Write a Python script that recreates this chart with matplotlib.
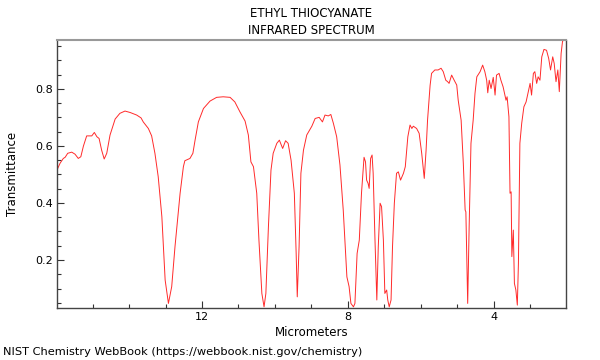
import numpy as np
import matplotlib
matplotlib.use('Agg')
import matplotlib.pyplot as plt
from matplotlib.ticker import MultipleLocator

# Spectrum (wavelength in micrometers, transmittance)
wavelength = [15.96, 15.89, 15.80, 15.75, 15.68, 15.57, 15.48, 15.39, 15.32, 15.25,
              15.16, 15.02, 14.95, 14.88, 14.82, 14.75, 14.68, 14.61, 14.52, 14.38,
              14.25, 14.11, 13.97, 13.79, 13.67, 13.61, 13.47, 13.38, 13.29, 13.20,
              13.10, 13.01, 12.92, 12.83, 12.74, 12.60, 12.51, 12.47, 12.33, 12.25,
              12.19, 12.10, 11.96, 11.78, 11.60, 11.42, 11.23, 11.10, 10.96, 10.82,
              10.73, 10.66, 10.59, 10.50, 10.44, 10.36, 10.30, 10.25, 10.18, 10.11,
              10.05, 9.95, 9.88, 9.79, 9.71, 9.64, 9.56, 9.47, 9.42, 9.39,
              9.34, 9.29, 9.22, 9.13, 8.99, 8.90, 8.79, 8.70, 8.63, 8.54,
              8.47, 8.40, 8.31, 8.22, 8.13, 8.03, 7.97, 7.92, 7.85, 7.81,
              7.75, 7.69, 7.63, 7.56, 7.52, 7.49, 7.45, 7.42, 7.38, 7.34,
              7.31, 7.26, 7.21, 7.17, 7.12, 7.08, 7.03, 6.99, 6.94, 6.91,
              6.87, 6.82, 6.78, 6.73, 6.67, 6.62, 6.56, 6.48, 6.43, 6.36,
              6.30, 6.25, 6.21, 6.12, 6.05, 5.98, 5.91, 5.86, 5.82, 5.75,
              5.71, 5.62, 5.53, 5.45, 5.39, 5.32, 5.27, 5.23, 5.16, 5.09,
              5.02, 4.98, 4.90, 4.84, 4.79, 4.77, 4.72, 4.68, 4.63, 4.57,
              4.52, 4.47, 4.38, 4.31, 4.25, 4.20, 4.17, 4.13, 4.08, 4.02,
              3.97, 3.93, 3.86, 3.81, 3.75, 3.70, 3.67, 3.64, 3.59, 3.56,
              3.53, 3.51, 3.47, 3.44, 3.40, 3.36, 3.33, 3.29, 3.24, 3.18,
              3.12, 3.06, 3.01, 2.97, 2.92, 2.88, 2.83, 2.79, 2.74, 2.69,
              2.63, 2.56, 2.50, 2.45, 2.39, 2.35, 2.30, 2.25, 2.21, 2.16,
              2.12, 2.05]
transmittance = [0.519, 0.539, 0.556, 0.560, 0.574, 0.578, 0.571, 0.556, 0.562, 0.599,
                 0.635, 0.635, 0.647, 0.632, 0.626, 0.585, 0.554, 0.574, 0.638, 0.694,
                 0.714, 0.722, 0.717, 0.708, 0.698, 0.684, 0.661, 0.635, 0.574, 0.492,
                 0.352, 0.130, 0.048, 0.107, 0.247, 0.434, 0.527, 0.548, 0.556, 0.574,
                 0.620, 0.684, 0.731, 0.757, 0.770, 0.772, 0.770, 0.754, 0.719, 0.687,
                 0.638, 0.544, 0.527, 0.434, 0.270, 0.083, 0.036, 0.083, 0.317, 0.515,
                 0.574, 0.609, 0.620, 0.591, 0.618, 0.609, 0.550, 0.434, 0.223, 0.071,
                 0.247, 0.504, 0.585, 0.638, 0.669, 0.696, 0.700, 0.684, 0.708, 0.705,
                 0.710, 0.679, 0.632, 0.533, 0.375, 0.141, 0.107, 0.048, 0.036, 0.048,
                 0.223, 0.270, 0.434, 0.560, 0.544, 0.480, 0.469, 0.451, 0.556, 0.568,
                 0.504, 0.270, 0.060, 0.247, 0.399, 0.387, 0.270, 0.083, 0.095, 0.060,
                 0.036, 0.060, 0.247, 0.399, 0.504, 0.509, 0.480, 0.504, 0.527, 0.632,
                 0.673, 0.661, 0.669, 0.661, 0.644, 0.574, 0.486, 0.585, 0.690, 0.812,
                 0.854, 0.866, 0.866, 0.872, 0.860, 0.830, 0.825, 0.819, 0.848, 0.830,
                 0.813, 0.760, 0.690, 0.539, 0.375, 0.369, 0.048, 0.317, 0.609, 0.690,
                 0.784, 0.842, 0.860, 0.883, 0.860, 0.830, 0.786, 0.830, 0.801, 0.840,
                 0.778, 0.848, 0.854, 0.830, 0.807, 0.778, 0.760, 0.772, 0.702, 0.434,
                 0.439, 0.212, 0.305, 0.118, 0.095, 0.042, 0.188, 0.609, 0.679, 0.737,
                 0.754, 0.790, 0.819, 0.778, 0.854, 0.860, 0.819, 0.842, 0.830, 0.912,
                 0.938, 0.935, 0.906, 0.866, 0.912, 0.889, 0.825, 0.866, 0.790, 0.924,
                 0.968, 0.970]

x_major = [12, 8, 4]

plt.rcParams['font.family'] = 'DejaVu Sans'
plt.rcParams['font.size'] = 8

fig = plt.figure(figsize=(6, 3.6), dpi=100)
ax = fig.add_axes([0.0958, 0.1453, 0.8467, 0.7436])

ax.plot(wavelength, transmittance, color='#ff2a2a', lw=0.7)

ax.set_xlim(15.96, 2.04)
ax.set_ylim(0.033, 0.971)

ax.set_xticks(x_major)
ax.xaxis.set_minor_locator(MultipleLocator(1))
ax.yaxis.set_major_locator(MultipleLocator(0.2))
ax.yaxis.set_minor_locator(MultipleLocator(0.05))
ax.tick_params(direction='in', length=5, width=0.8, color='#333333', labelsize=8, pad=3)
ax.tick_params(which='minor', direction='in', length=3, width=0.8, color='#333333')

for side in ['left', 'bottom', 'right']:
    ax.spines[side].set_color('#444444')
    ax.spines[side].set_linewidth(1.0)
ax.spines['top'].set_color('#999999')
ax.spines['top'].set_linewidth(1.5)

ax.set_title('ETHYL THIOCYANATE\nINFRARED SPECTRUM', fontsize=8.5, pad=4, linespacing=1.45)
ax.set_xlabel('Micrometers', fontsize=8.5, labelpad=3)
ax.set_ylabel('Transmittance', fontsize=8.5, labelpad=12)

fig.text(0.005, 0.022, 'NIST Chemistry WebBook (https://webbook.nist.gov/chemistry)',
         fontsize=8.2, va='center', ha='left')

fig.savefig('out.png', dpi=100)
